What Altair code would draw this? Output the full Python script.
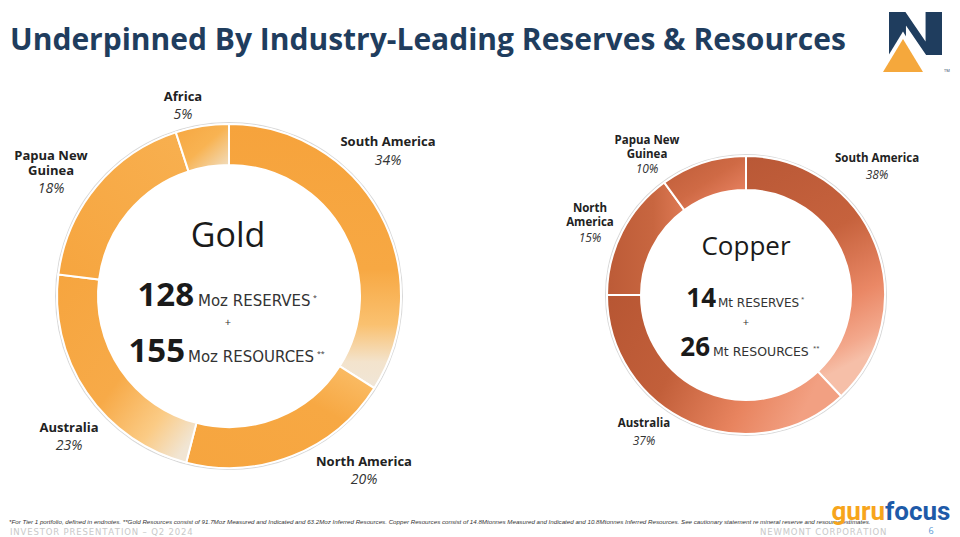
import altair as alt
import pandas as pd

# ---- data ----
gold_regions = ["South America", "North America", "Australia", "Papua New Guinea", "Africa"]
gold_share = [34, 20, 23, 18, 5]
copper_regions = ["South America", "Australia", "North America", "Papua New Guinea"]
copper_share = [38, 37, 15, 10]

gold_df = pd.DataFrame({"region": gold_regions, "share": gold_share, "order": range(len(gold_regions))})
copper_df = pd.DataFrame({"region": copper_regions, "share": copper_share, "order": range(len(copper_regions))})

OX, OY = 8, 8  # page margin offset: chart coords = image coords - 8

def px(x):
    return x - OX

def py(y):
    return y - OY

GOLD_C = (229, 296)
COP_C = (746, 295)


def grad(p1, p2, stops):
    return alt.LinearGradient(
        gradient="linear",
        x1=p1[0], y1=p1[1], x2=p2[0], y2=p2[1],
        stops=[alt.GradientStop(offset=o, color=c) for o, c in stops],
    )

gold_fill = {
    "South America": grad((0, 0), (0, 1), [(0, "#F6A33C"), (0.55, "#F7A843"), (0.76, "#FAC170"), (0.9, "#F3E3CC"), (1, "#F0E6D8")]),
    "North America": grad((1, 0), (0, 1), [(0, "#FBC16E"), (0.35, "#F7A843"), (1, "#F6A53F")]),
    "Australia": grad((0, 0), (1, 1), [(0, "#F6A53F"), (0.5, "#F7AA48"), (0.75, "#FBCB85"), (0.92, "#F1E5D3"), (1, "#F1E5D3")]),
    "Papua New Guinea": grad((0, 1), (1, 0), [(0, "#F6A53F"), (1, "#F8B050")]),
    "Africa": grad((0, 0), (1, 1), [(0, "#F6A640"), (0.5, "#F8B352"), (1, "#F0E2CC")]),
}
copper_fill = {
    "South America": grad((0, 0), (0.3, 1), [(0, "#B95836"), (0.45, "#C6623D"), (0.75, "#EA8866"), (0.92, "#F3A88C"), (1, "#F6BFA8")]),
    "Australia": grad((0, 0), (1, 0.3), [(0, "#B75633"), (0.4, "#C25F3A"), (0.75, "#E8845F"), (1, "#F2A082")]),
    "North America": grad((0, 0.5), (1, 0.5), [(0, "#BC5B37"), (0.6, "#C86640"), (1, "#DF7A55")]),
    "Papua New Guinea": grad((0, 0), (1, 1), [(0, "#BC5B37"), (0.5, "#CF6A45"), (1, "#F28C6E")]),
}

base = alt.Chart(pd.DataFrame({"a": [0]}))


def segment(df, name, fill, c, r_out, r_in):
    return alt.Chart(df).transform_window(
        cum="sum(share)", sort=[alt.SortField("order")], frame=[None, 0]
    ).transform_calculate(
        start="datum.cum - datum.share"
    ).transform_filter(
        alt.datum.region == name
    ).mark_arc(
        radius=r_out, radius2=r_in, fill=fill, stroke="white", strokeWidth=2
    ).encode(
        theta=alt.Theta("start:Q", scale=alt.Scale(domain=[0, 100])),
        theta2="cum:Q",
        x=alt.value(px(c[0])),
        y=alt.value(py(c[1])),
    )


def outline(c, r):
    return base.mark_arc(radius=r + 2, radius2=r + 0.8, color="#d9d9d9").encode(
        theta=alt.value(6.2832), x=alt.value(px(c[0])), y=alt.value(py(c[1]))
    )

layers = []
layers.append(outline(GOLD_C, 172))
layers.append(outline(COP_C, 139))
for r in gold_regions:
    layers.append(segment(gold_df, r, gold_fill[r], GOLD_C, 172, 131))
for r in copper_regions:
    layers.append(segment(copper_df, r, copper_fill[r], COP_C, 139, 105))


def txt(s, x, y, size, weight="normal", style="normal", align="center", color="#222222",
        font="Open Sans", baseline="middle"):
    kw = dict(text=s, fontSize=size, fontWeight=weight, fontStyle=style, align=align,
              color=color, font=font, baseline=baseline)
    return base.mark_text(**kw).encode(x=alt.value(px(x)), y=alt.value(py(y)))


def spaced(s):
    return "\u200a".join(list(s))

LBL = "Open Sans"
UNIT = "DejaVu Sans"
# title
layers.append(txt("Underpinned By Industry-Leading Reserves & Resources", 10, 50, 30,
                  weight="bold", align="left", color="#1F3D5E", baseline="alphabetic"))

# gold labels: (lines, pct, centre x, first line y, pct y)
gl = [
    (["Africa"], "5%", 183, 97, 115),
    (["South America"], "34%", 388, 142, 161),
    (["Papua New", "Guinea"], "18%", 51, 156, 189),
    (["Australia"], "23%", 69, 428, 446),
    (["North America"], "20%", 364, 462, 480),
]
for lines, pct, x, y, yp in gl:
    for i, ln in enumerate(lines):
        layers.append(txt(ln, x, y + i * 15, 13, weight="bold", font=LBL))
    layers.append(txt(pct, x, yp, 14, style="italic", font=LBL, color="#333333"))

cl = [
    (["Papua New", "Guinea"], "10%", 647, 141, 169),
    (["South America"], "38%", 877, 159, 175),
    (["North", "America"], "15%", 590, 209, 238),
    (["Australia"], "37%", 644, 424, 441),
]
for lines, pct, x, y, yp in cl:
    for i, ln in enumerate(lines):
        layers.append(txt(ln, x, y + i * 13.5, 11.5, weight="bold", font=LBL))
    layers.append(txt(pct, x, yp, 12, style="italic", font=LBL, color="#333333"))

# gold centre
layers.append(txt("Gold", 228, 237, 34, color="#1a1a1a"))
layers.append(txt("128", 194, 306, 33, weight="bold", align="right", baseline="alphabetic", color="#1a1a1a"))
layers.append(txt("Moz RESERVES", 198, 306, 15, align="left", baseline="alphabetic", color="#333333", font=UNIT))
layers.append(txt("*", 313, 300, 7, align="left", baseline="alphabetic", color="#333333"))
layers.append(txt("+", 228, 323, 11, color="#333333"))
layers.append(txt("155", 185, 362, 33, weight="bold", align="right", baseline="alphabetic", color="#1a1a1a"))
layers.append(txt("Moz RESOURCES", 188, 362, 15, align="left", baseline="alphabetic", color="#333333", font=UNIT))
layers.append(txt("**", 317, 356, 7, align="left", baseline="alphabetic", color="#333333"))

# copper centre
layers.append(txt("Copper", 746, 247, 26, color="#1a1a1a"))
layers.append(txt("14", 716, 307, 26, weight="bold", align="right", baseline="alphabetic", color="#1a1a1a"))
layers.append(txt("Mt RESERVES", 718, 307, 12, align="left", baseline="alphabetic", color="#333333", font=UNIT))
layers.append(txt("*", 801, 301, 6, align="left", baseline="alphabetic", color="#333333"))
layers.append(txt("+", 746, 323, 11, color="#333333"))
layers.append(txt("26", 710, 356, 26, weight="bold", align="right", baseline="alphabetic", color="#1a1a1a"))
layers.append(txt("Mt RESOURCES", 713, 356, 12.5, align="left", baseline="alphabetic", color="#333333", font=UNIT))
layers.append(txt("**", 813, 350, 6, align="left", baseline="alphabetic", color="#333333"))

# footnote
layers.append(txt("*For Tier 1 portfolio, defined in endnotes. **Gold Resources consist of 91.7Moz Measured and Indicated and 63.2Moz Inferred Resources. "
                  "Copper Resources consist of 14.8Mtonnes Measured and Indicated and 10.8Mtonnes Inferred Resources. "
                  "See cautionary statement re mineral reserve and resource estimates.",
                  9, 522, 6.2, style="italic", align="left", color="#333333", font="Liberation Sans Narrow, Liberation Sans"))
layers.append(txt(spaced("INVESTOR PRESENTATION – Q2 2024"), 10, 532, 8.5, align="left", color="#c8c8c8", font=UNIT))
layers.append(txt(spaced("NEWMONT CORPORATION"), 760, 532, 8.5, align="left", color="#c8c8c8", font=UNIT))
layers.append(txt("6", 931, 531, 9, align="center", color="#5b9bd5"))

# watermark
layers.append(txt("guru", 885, 520, 26, weight="bold", align="right", baseline="alphabetic", color="#F7A51C", font="Liberation Sans Narrow, Roboto"))
layers.append(txt("focus", 885, 520, 26, weight="bold", align="left", baseline="alphabetic", color="#1E5AA8", font="Liberation Sans Narrow, Roboto"))

# logo (Newmont N)
n_path = "M -1 0.81 L -1 -0.81 L -0.38 -0.81 L 0.38 0.3 L 0.38 -0.81 L 1 -0.81 L 1 0.81 L 0.4 0.81 L -0.36 -0.3 L -0.36 0.81 Z"
layers.append(base.mark_point(shape=n_path, size=2809, filled=True, color="#1F3D5E", opacity=1, strokeWidth=0).encode(
    x=alt.value(px(915.5)), y=alt.value(py(33.5))))
tri = "M 0 -0.82 L 1 0.82 L -1 0.82 Z"
layers.append(base.mark_point(shape=tri, size=2500, filled=True, color="white", opacity=1, strokeWidth=0).encode(
    x=alt.value(px(903)), y=alt.value(py(52))))
layers.append(base.mark_point(shape=tri, size=1600, filled=True, color="#F5A83C", opacity=1, strokeWidth=0).encode(
    x=alt.value(px(903)), y=alt.value(py(55.5))))
layers.append(txt("TM", 947, 71, 4, align="center", color="#1F3D5E"))

chart = alt.layer(*layers).properties(
    width=944, height=529, padding=0, autosize=alt.AutoSizeParams(type="none"),
    background="white"
).configure_view(stroke=None)

chart.save("out.html", embed_options={"renderer": "svg", "actions": False})
